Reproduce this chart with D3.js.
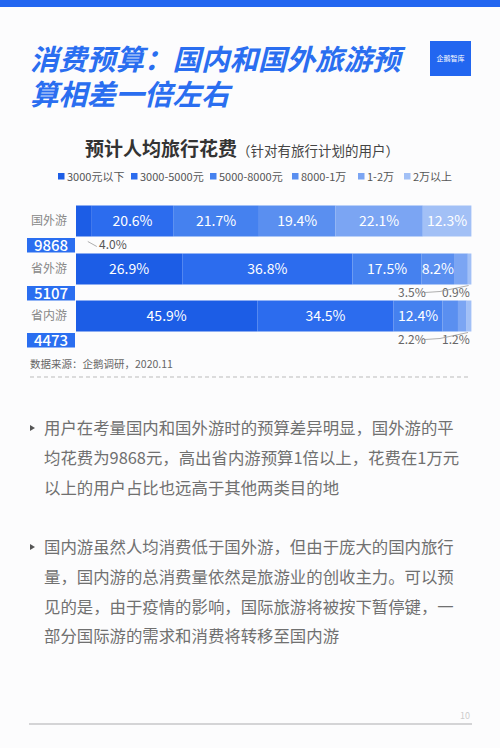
<!DOCTYPE html>
<html><head><meta charset="utf-8">
<script src="https://cdn.jsdelivr.net/npm/d3@7"></script>
<style>
html,body{margin:0;padding:0;background:#fcfcfd;}
body{position:relative;width:500px;height:748px;overflow:hidden;}
svg{display:block;font-family:"Noto Sans CJK SC","Noto Sans",sans-serif;}
#title{position:absolute;left:30px;top:42.8px;font-family:Roboto,"Noto Sans CJK SC",sans-serif;font-size:28.5px;line-height:35px;font-weight:700;font-style:italic;color:#2a6ef0;white-space:nowrap;}
</style></head>
<body><svg id="c" width="500" height="748"></svg>
<script>
// ---- data ----
const categories = ["国外游", "省外游", "省内游"];
const averages = ["9868", "5107", "4473"];
const legendLabels = ["3000元以下", "3000-5000元", "5000-8000元", "8000-1万", "1-2万", "2万以上"];
const colors = ["#1c5de6", "#2c6cee", "#4581ef", "#5a8ff0", "#7ba5f3", "#a2c0f6"];
// segment shares
const shareOutbound = [4.0, 20.6, 21.7, 19.4, 22.1, 12.3];
const shareInterProv = [26.9, 43.1, 17.5, 8.2, 3.5, 0.9];
const shareIntraProv = [45.9, 34.5, 12.4, 3.9, 2.2, 1.2];
// labels printed on the chart
const labelOutbound = ["4.0%", "20.6%", "21.7%", "19.4%", "22.1%", "12.3%"];
const labelInterProv = ["26.9%", "36.8%", "17.5%", "8.2%", "3.5%", "0.9%"];
const labelIntraProv = ["45.9%", "34.5%", "12.4%", "", "2.2%", "1.2%"];
const titleLines = ["消费预算：国内和国外旅游预", "算相差一倍左右"];
const bullet1 = ["用户在考量国内和国外游时的预算差异明显，国外游的平", "均花费为9868元，高出省内游预算1倍以上，花费在1万元", "以上的用户占比也远高于其他两类目的地"];
const bullet2 = ["国内游虽然人均消费低于国外游，但由于庞大的国内旅行", "量，国内游的总消费量依然是旅游业的创收主力。可以预", "见的是，由于疫情的影响，国际旅游将被按下暂停键，一", "部分国际游的需求和消费将转移至国内游"];

const rows = [
  {name: categories[0], avg: averages[0], share: shareOutbound, label: labelOutbound, outside: [0]},
  {name: categories[1], avg: averages[1], share: shareInterProv, label: labelInterProv, outside: [4,5]},
  {name: categories[2], avg: averages[2], share: shareIntraProv, label: labelIntraProv, outside: [4,5]}
];

const svg = d3.select("#c");
// top bar
svg.append("rect").attr("x",0).attr("y",0).attr("width",500).attr("height",7).attr("fill","#2266f0");
// title (one block, two lines)
d3.select("body").append("div").attr("id","title").html(titleLines.join("<br>"));
// logo
svg.append("rect").attr("x",430).attr("y",41).attr("width",41).attr("height",35).attr("fill","#2266f0");
svg.append("text").attr("x",450.5).attr("y",61).attr("text-anchor","middle").attr("font-size",7).attr("fill","#fff").text("企鹅智库");

// chart title
const ct = svg.append("text").attr("x",85).attr("y",156).attr("fill","#333");
ct.append("tspan").attr("font-size",19).attr("font-weight",700).text("预计人均旅行花费");
ct.append("tspan").attr("font-size",13.5).attr("fill","#444").text("（针对有旅行计划的用户）");

// legend
const legX = [58, 131, 210, 292, 358, 404];
const leg = svg.selectAll("g.leg").data(legendLabels).enter().append("g")
  .attr("transform",(d,i)=>`translate(${legX[i]},177)`);
leg.append("rect").attr("x",0).attr("y",-4).attr("width",6.5).attr("height",6.5).attr("fill",(d,i)=>colors[i]);
leg.append("text").attr("x",9).attr("y",4).attr("font-size",11).attr("fill","#555").text(d=>d);

// scales
const x = d3.scaleLinear().domain([0,100]).range([76,471]);
const y = d3.scaleBand().domain(categories).range([205, 349]).paddingInner(0.0);
const barH = 31;

rows.forEach((r,ri)=>{
  const top = y(r.name) + (ri===2?-0.5:0.5);
  let cum = 0;
  const segs = r.share.map((v,i)=>{const s={x0:cum,x1:cum+v,i,label:r.label[i]};cum+=v;return s;});
  const g = svg.append("g");
  g.selectAll("rect").data(segs).enter().append("rect")
    .attr("x",d=>x(d.x0)).attr("y",top).attr("width",d=>x(d.x1)-x(d.x0)).attr("height",barH)
    .attr("fill",d=>colors[d.i]);
  g.selectAll("text").data(segs.filter(d=>d.label && !r.outside.includes(d.i))).enter().append("text")
    .attr("x",d=>(x(d.x0)+x(d.x1))/2).attr("y",top+barH/2+5)
    .attr("text-anchor","middle").attr("font-size",14).attr("fill","#fff").text(d=>d.label);
  // row label
  svg.append("text").attr("x",49).attr("y",top+barH/2+4).attr("text-anchor","middle")
    .attr("font-size",12).attr("fill","#888").text(r.name);
  // avg box
  const by = top+barH+1.5;
  svg.append("rect").attr("x",27).attr("y",by).attr("width",48).attr("height",14.5).attr("fill","#2a6ef0");
  svg.append("text").attr("x",51).attr("y",by+12.5).attr("text-anchor","middle")
    .attr("font-size",15).attr("font-weight",500).attr("fill","#fff").text(r.avg);
  // outside labels
  const ly = top+barH+12;
  if (ri===0){
    const s = segs[0];
    svg.append("path").attr("d",`M${x(s.x1)-4},${top+barH+5} L${x(s.x1)+5},${top+barH+10}`)
      .attr("stroke","#999").attr("fill","none").attr("stroke-width",0.8);
    svg.append("text").attr("x",99).attr("y",ly).attr("font-size",12).attr("fill","#555").text(s.label);
  } else {
    const a = segs[4], b = segs[5];
    svg.append("text").attr("x",398).attr("y",ly).attr("font-size",12).attr("fill","#666").text(a.label);
    svg.append("text").attr("x",442).attr("y",ly).attr("font-size",12).attr("fill","#666").text(b.label);
    svg.append("path").attr("d",`M425,${ly-4} L440,${ly-5} L${(x(b.x0)+x(b.x1))/2-1},${top+barH+1}`)
      .attr("stroke","#999").attr("fill","none").attr("stroke-width",0.8);
  }
});

// source
svg.append("text").attr("x",30).attr("y",368).attr("font-size",10.5).attr("fill","#666").text("数据来源：企鹅调研，2020.11");
// dashed separator
svg.append("line").attr("x1",30).attr("x2",471).attr("y1",377).attr("y2",377)
  .attr("stroke","#bbb").attr("stroke-dasharray","4,3");

// bullets
function bullet(lines, y0){
  svg.append("path").attr("d",`M30,${y0-9} L35,${y0-6} L30,${y0-3} Z`).attr("fill","#555");
  svg.selectAll(null).data(lines).enter().append("text")
    .attr("x",44).attr("y",(d,i)=>y0+i*29.8).attr("font-size",16.4).attr("fill","#707070").text(d=>d);
}
bullet(bullet1, 434);
bullet(bullet2, 553);

// page number + bottom line
svg.append("text").attr("x",470).attr("y",719).attr("text-anchor","end").attr("font-size",9).attr("fill","#ccc").text("10");
svg.append("line").attr("x1",29).attr("x2",472).attr("y1",724).attr("y2",724).attr("stroke","#d4d4d6").attr("stroke-width",2);
</script></body></html>
